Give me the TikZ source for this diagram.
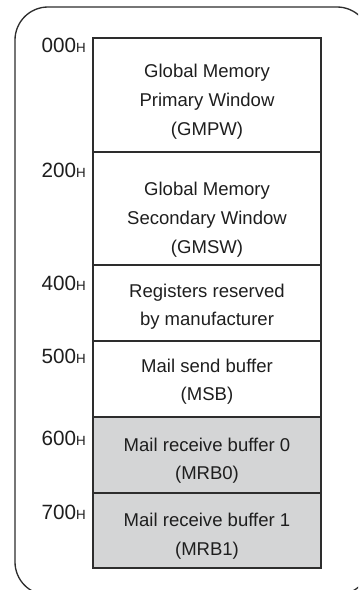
\documentclass[tikz,border=0pt]{standalone}
\usepackage{fontspec}
\setmainfont{Liberation Sans}
\definecolor{linec}{RGB}{45,45,45}
\definecolor{textc}{RGB}{30,30,30}
\definecolor{fillg}{RGB}{212,213,214}
\tikzset{
  membox/.style={draw=linec, line width=1pt},
  memtxt/.style={anchor=base, inner sep=0pt, text=textc, font=\fontsize{13.9}{16}\selectfont},
  addr/.style={anchor=base east, inner sep=0pt, text=textc, font=\fontsize{15.5}{18}\selectfont},
}
\newcommand{\hx}{{\fontsize{10}{11}\selectfont H}}
\begin{document}
\begin{tikzpicture}[x=0.75pt,y=-0.75pt]
\useasboundingbox (0,0) rectangle (358,590);
\begin{scope}
\clip (0,0) rectangle (358,590);
\draw[draw=linec, line width=1pt, rounded corners=24.75pt] (15,7) rectangle (370,595);
\end{scope}
% boxes
\fill[fillg] (93,417) rectangle (321,568);
\draw[membox] (93,38) rectangle (321,152);
\draw[membox] (93,152) rectangle (321,265);
\draw[membox] (93,265) rectangle (321,341);
\draw[membox] (93,341) rectangle (321,417);
\draw[membox] (93,417) rectangle (321,493);
\draw[membox] (93,493) rectangle (321,568);
% texts
\node[memtxt] (t1a) at (207,77) {Global Memory};
\node[memtxt] (t1b) at (207,106) {Primary Window};
\node[memtxt] (t1c) at (207,135) {(GMPW)};
\node[memtxt] (t2a) at (207,195) {Global Memory};
\node[memtxt] (t2b) at (207,224) {Secondary Window};
\node[memtxt] (t2c) at (207,253) {(GMSW)};
\node[memtxt] (t3a) at (207,297) {Registers reserved};
\node[memtxt] (t3b) at (207,325) {by manufacturer};
\node[memtxt] (t4a) at (207,372) {Mail send buffer};
\node[memtxt] (t4b) at (207,400) {(MSB)};
\node[memtxt] (t5a) at (207,451) {Mail receive buffer 0};
\node[memtxt] (t5b) at (207,479) {(MRB0)};
\node[memtxt] (t6a) at (207,526) {Mail receive buffer 1};
\node[memtxt] (t6b) at (207,555) {(MRB1)};
% addresses
\node[addr] (a0) at (86,52) {000\hx};
\node[addr] (a2) at (86,177) {200\hx};
\node[addr] (a4) at (86,290) {400\hx};
\node[addr] (a5) at (86,363) {500\hx};
\node[addr] (a6) at (86,445) {600\hx};
\node[addr] (a7) at (86,519) {700\hx};
\end{tikzpicture}
\end{document}
